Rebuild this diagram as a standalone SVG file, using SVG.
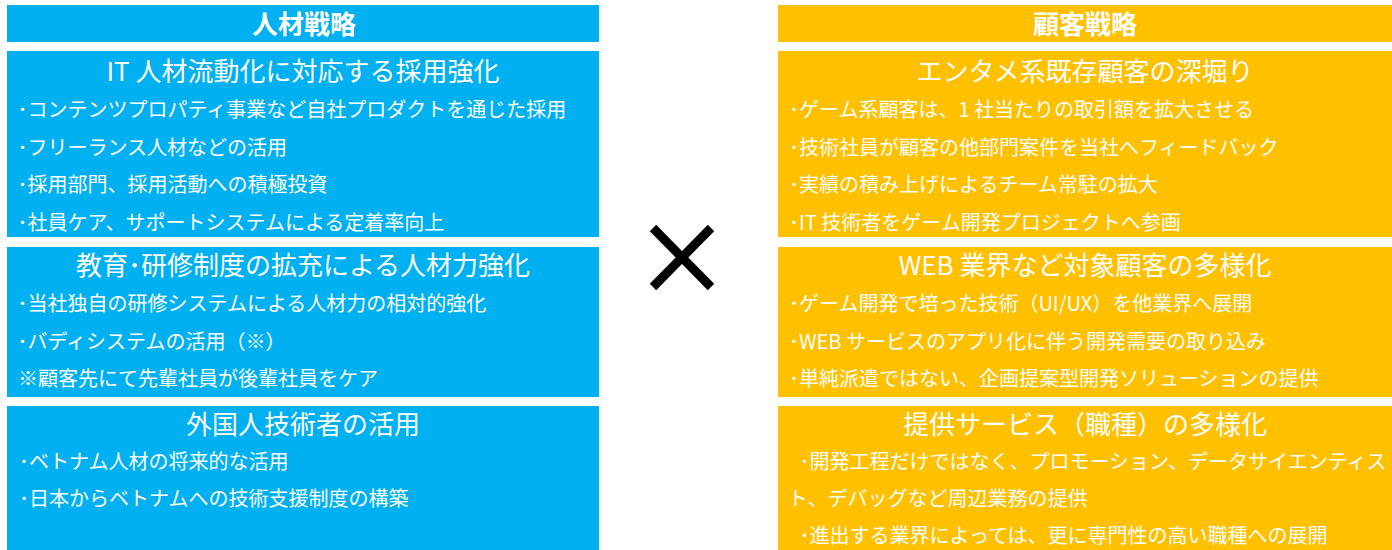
<svg xmlns="http://www.w3.org/2000/svg" width="1392" height="550" viewBox="0 0 1392 550">
<style>
.bl{fill:#00B0F0}
.or{fill:#FFC000}
text{font-family:"Noto Sans CJK JP","Noto Sans",sans-serif;fill:#FFFFFF}
.hd{font-size:26px;font-weight:bold;text-anchor:middle}
.tt{font-size:26px;text-anchor:middle}
.bt{font-size:20px}
.x{stroke:#000000;stroke-width:9;stroke-linecap:butt;fill:none}
</style>
<rect width="1392" height="550" fill="#FFFFFF"/>
<g id="hr-header">
<rect class="bl" x="7" y="5" width="592" height="37"/>
<text class="hd" x="304" y="34">人材戦略</text>
</g>
<g id="hr-box1">
<rect class="bl" x="7" y="51" width="592" height="186"/>
<text class="tt" x="303" y="81">IT 人材流動化に対応する採用強化</text>
<text class="bt" x="17.5" y="117">･コンテンツプロパティ事業など自社プロダクトを通じた採用</text>
<text class="bt" x="17.5" y="154.5">･フリーランス人材などの活用</text>
<text class="bt" x="17.5" y="192">･採用部門、採用活動への積極投資</text>
<text class="bt" x="17.5" y="229.5">･社員ケア、サポートシステムによる定着率向上</text>
</g>
<g id="hr-box2">
<rect class="bl" x="7" y="247" width="592" height="150"/>
<text class="tt" x="303" y="275">教育･研修制度の拡充による人材力強化</text>
<text class="bt" x="17.5" y="311">･当社独自の研修システムによる人材力の相対的強化</text>
<text class="bt" x="17.5" y="349">･バディシステムの活用（※）</text>
<text class="bt" x="18" y="385.5">※顧客先にて先輩社員が後輩社員をケア</text>
</g>
<g id="hr-box3">
<rect class="bl" x="7" y="406" width="592" height="144"/>
<text class="tt" x="303" y="434">外国人技術者の活用</text>
<text class="bt" x="19" y="469">･ベトナム人材の将来的な活用</text>
<text class="bt" x="19" y="505.5">･日本からベトナムへの技術支援制度の構築</text>
</g>
<g id="cross">
<line class="x" x1="653" y1="228" x2="711" y2="287"/>
<line class="x" x1="711" y1="228" x2="653" y2="287"/>
</g>
<g id="cs-header">
<rect class="or" x="778" y="5" width="614" height="37"/>
<text class="hd" x="1085" y="34">顧客戦略</text>
</g>
<g id="cs-box1">
<rect class="or" x="778" y="51" width="614" height="186"/>
<text class="tt" x="1085" y="81">エンタメ系既存顧客の深堀り</text>
<text class="bt" x="789" y="117">･ゲーム系顧客は、1 社当たりの取引額を拡大させる</text>
<text class="bt" x="789" y="154.5">･技術社員が顧客の他部門案件を当社へフィードバック</text>
<text class="bt" x="789" y="192">･実績の積み上げによるチーム常駐の拡大</text>
<text class="bt" x="789" y="229.5">･IT 技術者をゲーム開発プロジェクトへ参画</text>
</g>
<g id="cs-box2">
<rect class="or" x="778" y="247" width="614" height="150"/>
<text class="tt" x="1085" y="275">WEB 業界など対象顧客の多様化</text>
<text class="bt" x="789" y="311">･ゲーム開発で培った技術（UI/UX）を他業界へ展開</text>
<text class="bt" x="789" y="349">･WEB サービスのアプリ化に伴う開発需要の取り込み</text>
<text class="bt" x="789" y="385.5">･単純派遣ではない、企画提案型開発ソリューションの提供</text>
</g>
<g id="cs-box3">
<rect class="or" x="778" y="406" width="614" height="144"/>
<text class="tt" x="1085" y="434">提供サービス（職種）の多様化</text>
<text class="bt" x="799.5" y="468.5">･開発工程だけではなく、プロモーション、データサイエンティス</text>
<text class="bt" x="788" y="505.5">ト、デバッグなど周辺業務の提供</text>
<text class="bt" x="799.5" y="542.5">･進出する業界によっては、更に専門性の高い職種への展開</text>
</g>
</svg>
